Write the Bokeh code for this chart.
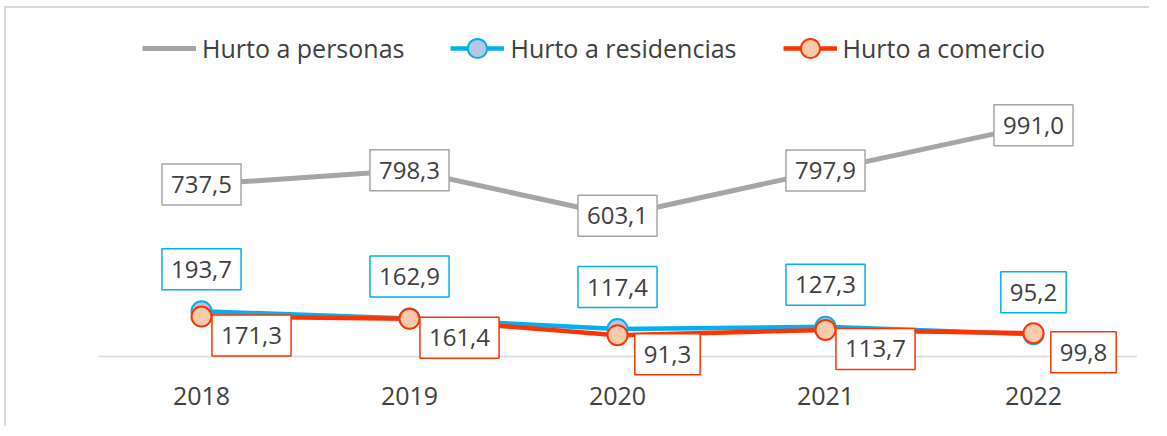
from bokeh.plotting import figure
from bokeh.models import ColumnDataSource, FactorRange, Range1d, Legend, LegendItem, Span
from bokeh.core.properties import value
from bokeh.embed import file_html
from bokeh.resources import INLINE

years = ["2018", "2019", "2020", "2021", "2022"]
personas = [737.5, 798.3, 603.1, 797.9, 991.0]
residencias = [193.7, 162.9, 117.4, 127.3, 95.2]
comercio = [171.3, 161.4, 91.3, 113.7, 99.8]
series_names = ["Hurto a personas", "Hurto a residencias", "Hurto a comercio"]

FONT = "Open Sans"
GRAY = "#A5A5A5"
BLUE = "#00B0F0"
RED = "#FF3300"
TXT = "#404040"

def fmt(v):
    return f"{v:.1f}".replace(".", ",")

src = ColumnDataSource(dict(
    x=years,
    p=personas, r=residencias, c=comercio,
    pl=[fmt(v) for v in personas],
    rl=[fmt(v) for v in residencias],
    cl=[fmt(v) for v in comercio],
))

p = figure(
    width=1145, height=420,
    x_range=FactorRange(*years, range_padding=0),
    y_range=Range1d(-103, 1492),
    output_backend="svg", toolbar_location=None,
    min_border_left=91, min_border_right=14, min_border_top=0, min_border_bottom=48,
)
p.styles = {"margin-left": "4px", "margin-top": "6px",
            "border-left": "2px solid #D9D9D9", "border-top": "2px solid #D9D9D9"}
p.outline_line_color = None
p.xgrid.visible = False
p.ygrid.visible = False
p.yaxis.visible = False

ax = p.xaxis[0]
ax.axis_line_color = None
ax.major_tick_line_color = None
ax.minor_tick_line_color = None
ax.major_label_text_font = FONT
ax.major_label_text_font_size = "25px"
ax.major_label_text_color = TXT
ax.major_label_standoff = 0

p.add_layout(Span(location=0, dimension="width", line_color="#D9D9D9", line_width=1.5, level="underlay"))

lp = p.line("x", "p", source=src, line_color=GRAY, line_width=5)
lr = p.line("x", "r", source=src, line_color=BLUE, line_width=4.5)
sr = p.scatter("x", "r", source=src, size=20, fill_color="#B4C7E7", line_color=BLUE, line_width=2)
lc = p.line("x", "c", source=src, line_color=RED, line_width=4.5)
sc = p.scatter("x", "c", source=src, size=20, fill_color="#F8CBAD", line_color=RED, line_width=2)

common = dict(text_font=value(FONT), text_font_size="24px", text_color=TXT,
              background_fill_color="white", border_line_width=1.5, padding=(9, 9, 12, 12),
              text_baseline="middle", text_align="center")
p.text("x", "p", text="pl", source=src, border_line_color=GRAY, **common)
p.text("x", "r", text="rl", source=src, border_line_color=BLUE, y_offset=-42, **common)
p.text("x", "c", text="cl", source=src, border_line_color=RED, x_offset=50, y_offset=19, **common)

legend = Legend(
    items=[
        LegendItem(label=series_names[0], renderers=[lp]),
        LegendItem(label=series_names[1], renderers=[lr, sr]),
        LegendItem(label=series_names[2], renderers=[lc, sc]),
    ],
    orientation="horizontal",
    location=(45, 308),
    padding=0, margin=0, spacing=46,
    glyph_width=54, glyph_height=48, label_standoff=6, label_height=24,
    label_text_font=FONT, label_text_font_size="25px", label_text_color=TXT,
    border_line_color=None, background_fill_alpha=0,
)
p.add_layout(legend)

open("out.html", "w").write(file_html(p, INLINE))
